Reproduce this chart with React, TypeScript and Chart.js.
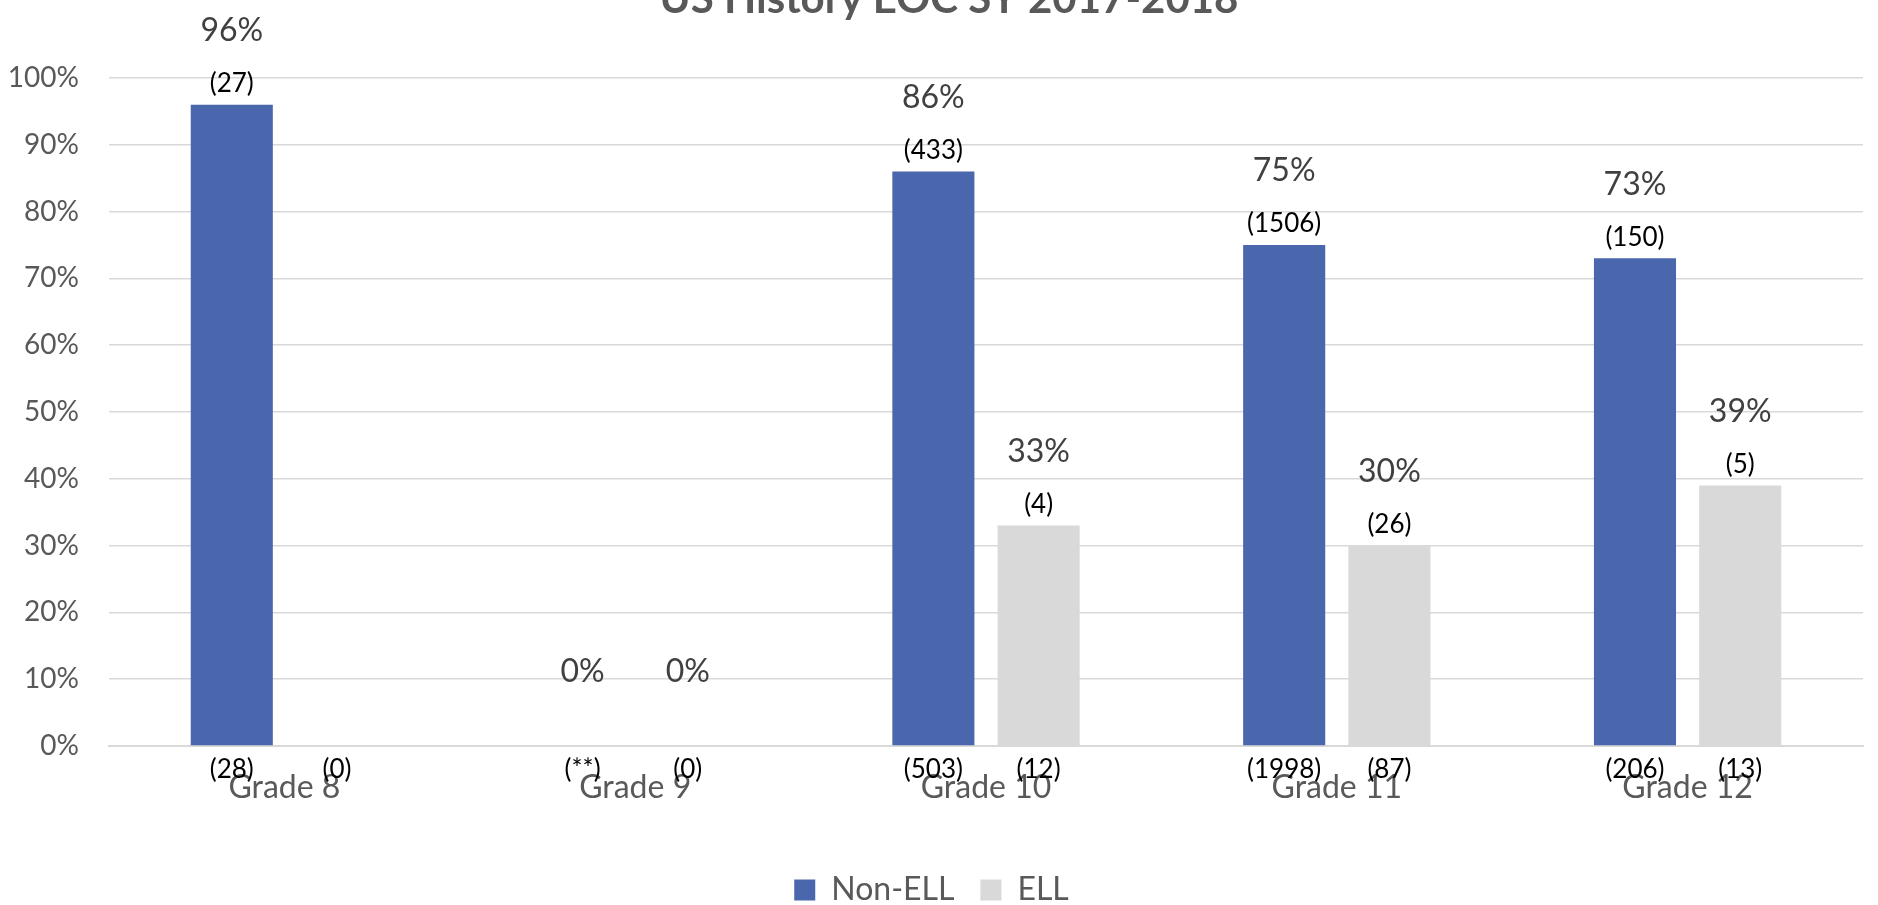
import React, { useEffect, useRef } from "react";
import { Chart, registerables } from "chart.js";

Chart.register(...registerables);

const titleText = "US History EOC SY 2017-2018";
const categories = ["Grade 8", "Grade 9", "Grade 10", "Grade 11", "Grade 12"];
const seriesNames = ["Non-ELL", "ELL"];
const nonEllPct: (number | null)[] = [96, 0, 86, 75, 73];
const ellPct: (number | null)[] = [null, 0, 33, 30, 39];
const nonEllPassed: (string | null)[] = ["(27)", null, "(433)", "(1506)", "(150)"];
const ellPassed: (string | null)[] = [null, null, "(4)", "(26)", "(5)"];
const nonEllTested = ["(28)", "(**)", "(503)", "(1998)", "(206)"];
const ellTested = ["(0)", "(0)", "(12)", "(87)", "(13)"];
const yTicks = [0, 10, 20, 30, 40, 50, 60, 70, 80, 90, 100];

const FONT = "Lato, 'Open Sans', 'Liberation Sans', sans-serif";
const BLUE = "#4a66ac";
const GREY = "#d9d9d9";

const passedLabels = [nonEllPassed, ellPassed];
const testedLabels = [nonEllTested, ellTested];

const labelPlugin = {
  id: "customLabels",
  afterDatasetsDraw(chart: any) {
    const ctx = chart.ctx;
    const area = chart.chartArea;
    ctx.save();
    ctx.textAlign = "center";
    ctx.textBaseline = "middle";
    chart.data.datasets.forEach((ds: any, di: number) => {
      const meta = chart.getDatasetMeta(di);
      meta.data.forEach((el: any, i: number) => {
        const v = ds.data[i];
        ctx.font = `26px ${FONT}`;
        ctx.fillStyle = "#000000";
        ctx.fillText(testedLabels[di][i], el.x, area.bottom + 24);
        if (v === null || v === undefined) return;
        ctx.font = `32px ${FONT}`;
        ctx.fillStyle = "#404040";
        ctx.fillText(`${v}%`, el.x, el.y - 74);
        const p = passedLabels[di][i];
        if (p) {
          ctx.font = `26px ${FONT}`;
          ctx.fillStyle = "#000000";
          ctx.fillText(p, el.x, el.y - 21);
        }
      });
    });
    ctx.font = `bold 42px ${FONT}`;
    ctx.fillStyle = "#595959";
    ctx.textBaseline = "alphabetic";
    ctx.fillText(titleText, chart.width / 2 + 10, 13);
    ctx.restore();
  },
};

export default function App() {
  const ref = useRef<HTMLCanvasElement | null>(null);
  useEffect(() => {
    document.body.style.margin = "0";
    document.body.style.overflow = "hidden";
    const canvas = ref.current!;
    const chart = new Chart(canvas, {
      type: "bar",
      data: {
        labels: categories,
        datasets: [
          { label: seriesNames[0], data: nonEllPct, backgroundColor: BLUE, categoryPercentage: 0.6, barPercentage: 0.78 },
          { label: seriesNames[1], data: ellPct, backgroundColor: GREY, categoryPercentage: 0.6, barPercentage: 0.78 },
        ],
      },
      options: {
        responsive: false,
        animation: false,
        devicePixelRatio: 1,
        layout: { padding: { top: 78, right: 15, bottom: 4, left: 0 } },
        plugins: {
          title: { display: false },
          tooltip: { enabled: false },
          legend: {
            position: "bottom",
            labels: {
              font: { family: FONT, size: 32 },
              color: "#595959",
              boxWidth: 21,
              boxHeight: 21,
              padding: 26,
            },
          },
        },
        scales: {
          x: {
            grid: { display: false, drawTicks: false },
            border: { display: true, color: GREY, width: 2 },
            ticks: { font: { family: FONT, size: 32 }, color: "#595959", padding: 22 },
            afterFit: (s: any) => { s.height = 102; },
          },
          y: {
            min: 0,
            max: 100,
            afterBuildTicks: (s: any) => { s.ticks = yTicks.map((v) => ({ value: v })); },
            grid: { color: GREY, lineWidth: 1.5, drawTicks: false },
            border: { display: false },
            ticks: {
              font: { family: FONT, size: 28 },
              color: "#595959",
              padding: 30,
              callback: (v: any) => `${v}%`,
            },
            afterFit: (s: any) => { s.width = 109; },
          },
        },
      },
      plugins: [labelPlugin],
    });
    return () => chart.destroy();
  }, []);
  return (
    <div style={{ position: "fixed", left: 0, top: 0, width: 1878, height: 905, overflow: "hidden", background: "#fff" }}>
      <canvas ref={ref} width={1878} height={920} style={{ width: 1878, height: 920, display: "block" }} />
    </div>
  );
}
